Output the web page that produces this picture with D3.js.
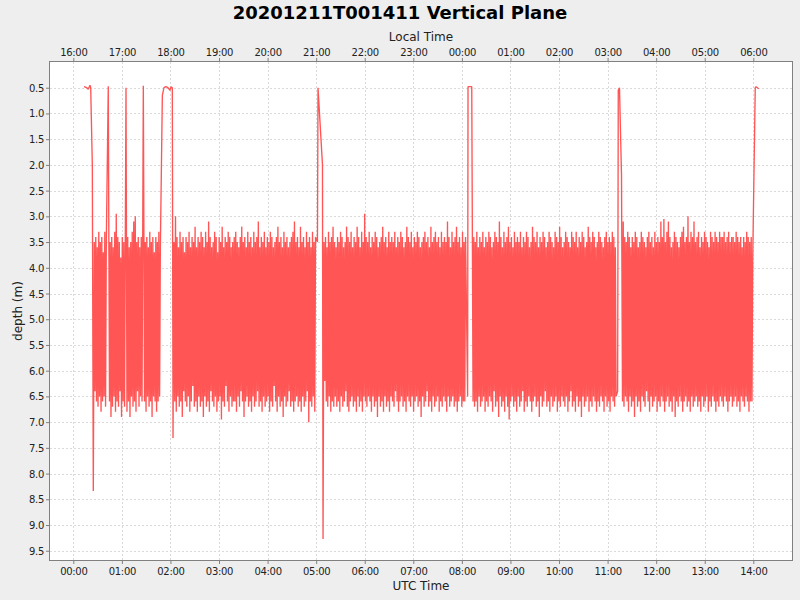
<!DOCTYPE html>
<html><head><meta charset="utf-8">
<script src="https://cdn.jsdelivr.net/npm/d3@7"></script>
<style>
body{margin:0;background:#eeeeee;}
svg{display:block;font-family:"DejaVu Sans",sans-serif;}
</style></head><body>
<svg id="chart" width="800" height="600"></svg>
<script>
// ---------------- DATA ----------------
const chartTitle = "20201211T001411 Vertical Plane";
const utcTickLabels = ["00:00","01:00","02:00","03:00","04:00","05:00","06:00","07:00","08:00","09:00","10:00","11:00","12:00","13:00","14:00"];
const localTickLabels = ["16:00","17:00","18:00","19:00","20:00","21:00","22:00","23:00","00:00","01:00","02:00","03:00","04:00","05:00","06:00"];
const depthTicks = [0.5,1.0,1.5,2.0,2.5,3.0,3.5,4.0,4.5,5.0,5.5,6.0,6.5,7.0,7.5,8.0,8.5,9.0,9.5];

// surface / transition points (minutes after 00:00 UTC, depth m)
const surfaceTimeMin = [13.2,16.6,18.5,20.6,21.5,23.5,24.7, 43.2, 65.1, 86.5,
  110.0,112.0,114.5,117.0,119.5,120.7,122.3,123.2, 301.6,302.3,307.8,308.5,
  487.1,487.6,492.2, 672.4,673.2,674.7,677.2, 842.4,843.5,846.6];
const surfaceDepth = [0.48,0.50,0.53,0.45,0.50,2.0,8.34, 0.47, 0.50, 0.46,
  0.65,0.50,0.48,0.50,0.55,0.48,0.50,7.31, 3.5,0.50,2.0,9.27,
  6.5,0.48,0.48, 6.4,0.55,0.50,2.2, 0.50,0.48,0.52];

// dive segments: start time (min UTC) and logger sampling step
const segStartMin = [25.9, 44.7, 66.3, 88.0, 124.4, 309.7, 493.8, 678.4];
const sampleStepMin = 0.93;

const segA = [3.5,6.4,3.4,6.6,3.6,6.7,3.3,6.5,3.5,6.8,3.4,6.6,3.7,6.5,3.3,6.7,3.5];
const segB = [6.6,3.5,6.9,3.4,6.7,3.6,6.5,3.3,6.8,2.95,6.6,3.4,6.7,3.5,6.4,3.8,6.9,3.4,6.6,3.5,6.7];
const segC = [6.8,3.4,6.6,3.6,6.9,3.5,6.5,3.3,6.7,3.1,6.6,3.0,6.8,3.5,6.4,3.4,6.7,3.6,6.5,3.4,6.6];
const segD = [6.6,3.5,6.8,3.4,6.5,3.6,6.7,3.3,6.6,3.5,6.9,3.4,6.5,3.7,6.6,3.4,6.8,3.5,6.6,3.3,6.5,3.6];
const segE = [
 3.5,6.6,3.0,6.8,3.4,6.5,3.6,6.7,3.3,6.6,3.5,6.9,3.4,6.4,3.7,6.6,3.4,6.7,3.5,6.5,
 3.3,6.8,3.6,6.6,3.4,6.3,3.5,6.7,3.2,6.6,3.6,6.8,3.4,6.5,3.5,6.7,3.3,6.6,3.4,6.9,
 3.6,6.5,3.3,6.7,3.5,6.6,3.1,6.8,3.4,6.4,3.6,6.6,3.5,6.7,3.3,6.5,3.4,6.8,3.7,6.6,
 3.4,6.5,3.5,6.95,3.2,6.6,3.6,6.7,3.4,6.3,3.5,6.6,3.3,6.8,3.4,6.5,3.6,6.7,3.5,6.6,
 3.4,6.6,3.3,6.8,3.5,6.5,3.6,6.7,3.4,6.4,3.2,6.6,3.5,6.9,3.4,6.6,3.6,6.5,3.3,6.7,
 3.5,6.6,3.4,6.8,3.6,6.5,3.3,6.7,3.5,6.6,3.4,6.4,3.1,6.7,3.6,6.6,3.4,6.8,3.5,6.5,
 3.3,6.7,3.6,6.6,3.4,6.5,3.5,6.8,3.3,6.6,3.4,6.7,3.6,6.3,3.5,6.6,3.4,6.8,3.2,6.5,
 3.5,6.7,3.4,6.6,3.6,6.9,3.3,6.5,3.5,6.7,3.4,6.6,3.6,6.4,3.5,6.7,3.4,6.6,3.3,6.8,
 3.1,6.6,3.5,6.5,3.4,6.7,3.6,6.6,3.2,6.8,3.5,6.5,3.4,6.7,3.6,6.6,3.3,6.4,3.5,7.0,
 3.4,6.6,3.6,6.7,3.3,6.5,3.5,6.8,3.4];
const segF = [
 3.5,6.2,3.4,6.6,3.6,6.7,3.3,6.5,3.5,6.8,3.4,6.6,3.2,6.7,3.5,6.5,3.6,6.7,3.4,6.6,
 3.5,6.8,3.3,6.5,3.4,6.7,3.6,6.6,3.5,6.4,3.2,6.7,3.4,6.8,3.5,6.6,3.3,6.5,3.6,6.7,
 3.4,6.6,3.5,6.8,3.2,6.5,3.4,6.7,3.6,6.6,3.3,6.8,3.5,6.5,2.95,6.6,3.4,6.7,3.5,6.5,
 3.3,6.6,3.6,6.8,3.4,6.5,3.5,6.7,3.3,6.6,3.4,6.9,3.6,6.5,3.5,6.7,3.4,6.6,3.2,6.8,
 3.5,6.5,3.4,6.7,3.6,6.6,3.3,6.8,3.5,6.5,3.4,6.6,3.5,6.7,3.3,6.4,3.6,6.6,3.4,6.8,
 3.5,6.6,3.3,6.5,3.4,6.7,3.6,6.6,3.5,6.8,3.2,6.5,3.4,6.6,3.5,6.7,3.3,6.5,3.6,6.8,
 3.4,6.6,3.5,6.5,3.3,6.7,3.4,6.6,3.6,6.9,3.5,6.5,3.4,6.7,3.3,6.6,3.5,6.4,3.4,6.7,
 3.6,6.6,3.2,6.8,3.5,6.5,3.4,6.7,3.3,6.6,3.5,6.5,3.4,6.8,3.6,6.6,3.3,6.7,3.5,6.5,
 3.4,6.6,3.5,6.8,3.1,6.5,3.4,6.7,3.6,6.6,3.3,6.5,3.5,6.7,3.4,6.6,3.2,6.8,3.5,6.6,
 3.4,6.5,3.6,6.7,3.3,6.6,3.5,6.6,3.4];
const segG = [
 6.6,3.4,6.7,3.5,6.6,3.3,6.8,3.6,6.5,3.4,6.7,3.5,6.6,3.3,6.5,3.6,6.8,3.4,6.6,3.5,
 6.7,3.3,6.5,3.4,6.6,3.6,6.8,3.5,6.4,3.3,6.7,3.4,6.6,3.5,6.9,3.1,6.5,3.4,6.7,3.6,
 6.6,3.3,6.8,3.5,6.5,3.4,6.7,3.2,6.95,3.5,6.6,3.4,6.5,3.6,6.7,3.3,6.6,3.5,6.8,3.4,
 6.5,3.5,6.7,3.3,6.6,3.6,6.4,3.4,6.8,3.5,6.6,3.3,6.7,3.4,6.5,3.6,6.6,3.5,6.8,3.2,
 6.6,3.4,6.5,3.5,6.7,3.3,6.6,3.6,6.9,3.4,6.5,3.5,6.7,3.3,6.6,3.4,6.4,3.6,6.7,3.5,
 6.6,3.3,6.8,3.4,6.5,3.5,6.7,3.6,6.6,3.3,6.5,3.4,6.8,3.5,6.6,3.2,6.7,3.4,6.5,3.6,
 6.6,3.5,6.7,3.3,6.5,3.4,6.8,3.5,6.6,3.6,6.4,3.3,6.7,3.4,6.6,3.5,6.8,3.3,6.5,3.6,
 6.7,3.4,6.6,3.5,6.9,3.3,6.5,3.4,6.7,3.6,6.6,3.5,6.5,3.2,6.8,3.4,6.6,3.5,6.7,3.3,
 6.5,3.4,6.6,3.6,6.8,3.5,6.6,3.3,6.7,3.4,6.5,3.5,6.6,3.6,6.8,3.4,6.5,3.3,6.7,3.5,
 6.6,3.4,6.8,3.5,6.5,3.3,6.6,3.4,6.7,3.6,6.5];
const segH = [
 6.6,3.1,6.7,3.4,6.5,3.5,6.6,3.3,6.8,3.4,6.5,3.6,6.7,3.4,6.6,3.5,6.9,3.3,6.5,3.4,
 6.7,3.6,6.6,3.5,6.8,3.3,6.5,3.4,6.6,3.5,6.7,3.6,6.4,3.4,6.6,3.3,6.8,3.5,6.5,3.4,
 6.7,3.6,6.6,3.3,6.5,3.5,6.8,3.4,6.6,3.5,6.7,3.1,6.5,3.4,6.6,3.05,6.8,3.5,6.6,3.3,
 6.5,3.1,6.7,3.4,6.6,3.6,6.8,3.5,6.5,3.3,6.9,3.4,6.6,3.5,6.7,3.6,6.5,3.4,6.6,3.3,
 6.8,3.2,6.6,3.5,6.5,3.4,6.7,3.0,6.6,3.5,6.8,3.3,6.5,3.4,6.7,3.1,6.6,3.5,6.5,3.4,
 6.7,3.3,6.6,3.6,6.8,3.4,6.5,3.5,6.7,3.3,6.6,3.4,6.5,3.5,6.8,3.6,6.6,3.3,6.7,3.4,
 6.5,3.5,6.6,3.3,6.8,3.4,6.6,3.5,6.7,3.3,6.5,3.4,6.6,3.4,6.7,3.3,6.5,3.5,6.6,3.4,
 6.8,3.3,6.6,3.5,6.5,3.4,6.7,3.4,6.6,3.5,6.5,3.3,6.7,3.4,6.6,3.5,6.8,3.4,6.5,3.6,
 6.6,3.4,6.7,3.5,6.5,3.3,6.6,3.4,6.8,3.5,6.6,3.4,6.6,3.8];
const diveSegments = [segA, segB, segC, segD, segE, segF, segG, segH];

// ---------------- CHART ----------------
const W = 800, H = 600;
const P = {left:50, top:62, right:792, bottom:560};
const svg = d3.select("#chart");
svg.append("rect").attr("width", W).attr("height", H).attr("fill", "#eeeeee");

const baseMs = Date.UTC(2020, 11, 11, 0, 0, 0);
const toDate = m => new Date(baseMs + m * 60000);
const x = d3.scaleUtc().domain([toDate(-28.78), toDate(887.8)]).range([P.left, P.right]);
const y = d3.scaleLinear().domain([0, 9.68]).range([P.top, P.bottom]);

// build series
const points = [];
surfaceTimeMin.forEach((t, i) => points.push({t: t, d: surfaceDepth[i]}));
diveSegments.forEach((seg, s) => seg.forEach((d, i) => points.push({t: segStartMin[s] + i * sampleStepMin, d: d})));
points.sort((a, b) => a.t - b.t);

const hourTicks = utcTickLabels.map((_, i) => toDate(i * 60));

// plot background
svg.append("rect").attr("x", P.left).attr("y", P.top)
  .attr("width", P.right - P.left).attr("height", P.bottom - P.top).attr("fill", "#ffffff");

// gridlines
const grid = svg.append("g").attr("stroke", "#dadada").attr("stroke-width", 1)
  .attr("stroke-dasharray", "2,2").attr("shape-rendering", "crispEdges");
grid.selectAll("line.v").data(hourTicks).join("line").attr("class", "v")
  .attr("x1", d => Math.round(x(d)) + 0.5).attr("x2", d => Math.round(x(d)) + 0.5)
  .attr("y1", P.top).attr("y2", P.bottom);
grid.selectAll("line.h").data(depthTicks).join("line").attr("class", "h")
  .attr("y1", d => Math.round(y(d)) + 0.5).attr("y2", d => Math.round(y(d)) + 0.5)
  .attr("x1", P.left).attr("x2", P.right);

// data line
svg.append("clipPath").attr("id", "clip").append("rect")
  .attr("x", P.left).attr("y", P.top).attr("width", P.right - P.left).attr("height", P.bottom - P.top);
const line = d3.line().x(d => x(toDate(d.t))).y(d => y(d.d));
svg.append("path").datum(points).attr("clip-path", "url(#clip)")
  .attr("fill", "none").attr("stroke", "#ff5555").attr("stroke-width", 1.35)
  .attr("stroke-linejoin", "bevel").attr("d", line);

// axes
function styleAxis(g) {
  g.select(".domain").remove();
  g.selectAll(".tick line").attr("stroke", "#808080");
  g.selectAll(".tick text").attr("fill", "#222222").attr("font-size", "10px")
    .attr("font-family", "DejaVu Sans, sans-serif").attr("letter-spacing", "-0.3px");
}
const xBottom = d3.axisBottom(x).tickValues(hourTicks).tickSize(4).tickSizeOuter(0)
  .tickFormat((d, i) => utcTickLabels[i]);
const gB = svg.append("g").attr("transform", `translate(0,${P.bottom})`).call(xBottom);
styleAxis(gB);
gB.selectAll(".tick text").attr("y", 14.5).attr("dy", null);

const xTop = d3.axisTop(x).tickValues(hourTicks).tickSize(4).tickSizeOuter(0)
  .tickFormat((d, i) => localTickLabels[i]);
const gT = svg.append("g").attr("transform", `translate(0,${P.top})`).call(xTop);
styleAxis(gT);
gT.selectAll(".tick text").attr("y", -6).attr("dy", null);

const yLeft = d3.axisLeft(y).tickValues(depthTicks).tickSize(4).tickSizeOuter(0)
  .tickFormat(d3.format(".1f"));
const gL = svg.append("g").attr("transform", `translate(${P.left},0)`).call(yLeft);
styleAxis(gL);
gL.selectAll(".tick text").attr("x", -6).attr("dy", "0.35em");

// outline
svg.append("rect").attr("x", P.left - 0.5).attr("y", P.top - 0.5)
  .attr("width", P.right - P.left + 1).attr("height", P.bottom - P.top + 1)
  .attr("fill", "none").attr("stroke", "#808080").attr("stroke-width", 1);

// labels
svg.append("text").attr("x", 400).attr("y", 18.5).attr("text-anchor", "middle")
  .attr("font-size", "18px").attr("font-weight", "bold").attr("fill", "#000").text(chartTitle);
svg.append("text").attr("x", (P.left + P.right) / 2).attr("y", 41).attr("text-anchor", "middle")
  .attr("font-size", "12px").attr("fill", "#222").text("Local Time");
svg.append("text").attr("x", (P.left + P.right) / 2).attr("y", 590).attr("text-anchor", "middle")
  .attr("font-size", "12px").attr("fill", "#222").text("UTC Time");
svg.append("text").attr("transform", `translate(22,${(P.top + P.bottom) / 2}) rotate(-90)`)
  .attr("text-anchor", "middle").attr("font-size", "12px").attr("fill", "#222").text("depth (m)");
</script>
</body></html>
